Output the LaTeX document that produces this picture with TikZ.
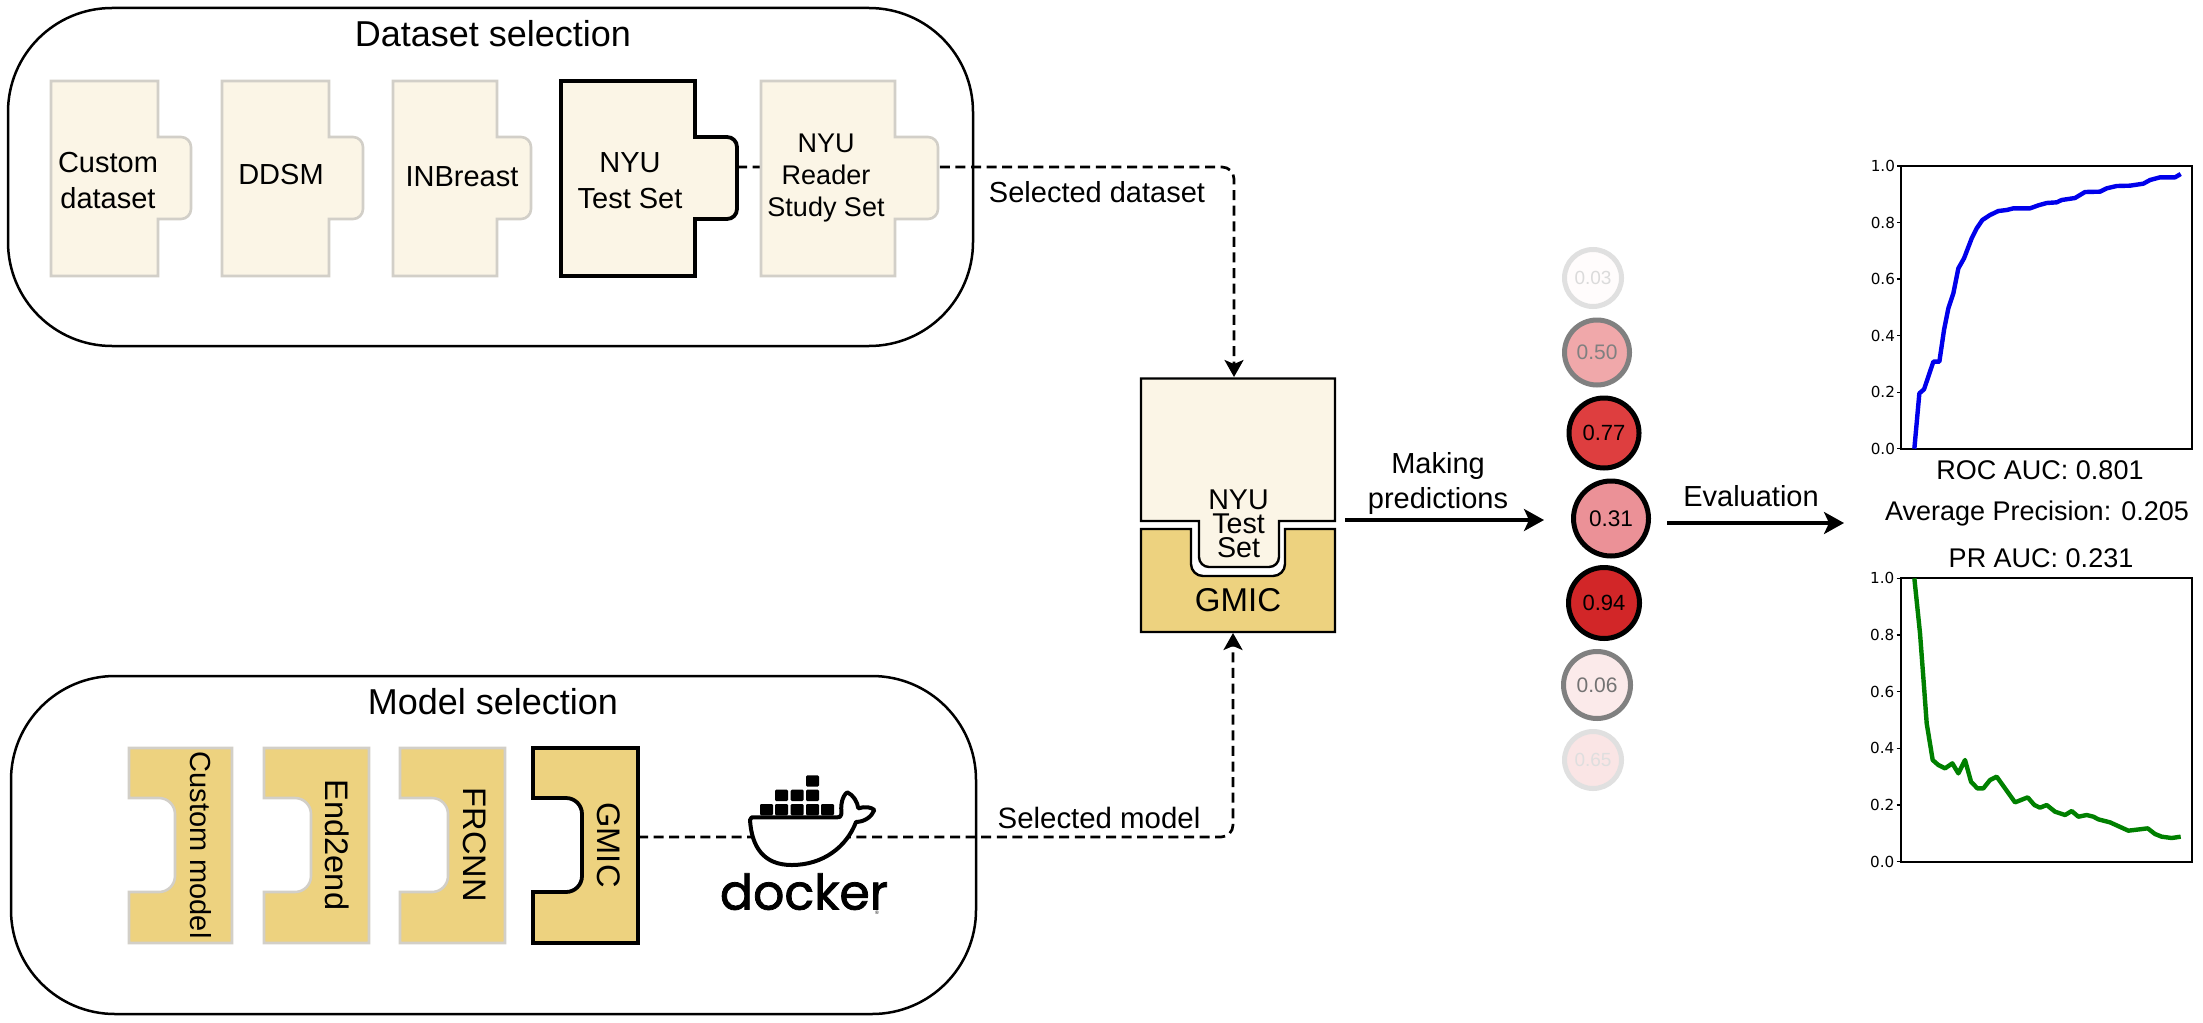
\documentclass[tikz,border=0pt]{standalone}
\usepackage{fontspec}
\setmainfont{Liberation Sans}
\newfontfamily\tickfont{DejaVu Sans}
\newfontfamily\dockerfont[RawFeature={embolden=1.6}]{Poppins}
\usetikzlibrary{arrows.meta}
\definecolor{cream}{HTML}{FBF5E6}
\definecolor{gold}{HTML}{EDD27F}
\definecolor{softedge}{HTML}{D2CFC8}
\tikzset{
  container/.style={draw=black,line width=1.25pt,fill=white,rounded corners=52pt},
  softpiece/.style={line width=1.3pt,draw=softedge},
  hardpiece/.style={line width=1.9pt,draw=black},
  txt/.style={inner sep=0pt,font=\fontsize{14.5}{18}\selectfont,align=center},
  bigtxt/.style={txt,font=\fontsize{18}{20}\selectfont},
  sidetxt/.style={txt,rotate=-90,font=\fontsize{16.3}{18}\selectfont},
  dashconn/.style={line width=1.35pt,dash pattern=on 5pt off 2.8pt,rounded corners=6pt,-{Stealth[length=8.5pt,width=9.5pt,inset=2pt]}},
  flow/.style={line width=1.65pt,-{Stealth[length=10pt,width=11pt,inset=2.5pt]}},
  score/.style={circle,inner sep=0pt,line width=2.5pt},
  tick/.style={line width=.6pt},
  ticktxt/.style={inner sep=0pt,anchor=east,font=\tickfont\fontsize{7.6}{8}\selectfont},
  plotframe/.style={line width=1.1pt,draw=black},
  curve/.style={line width=2.2pt,line join=round}
}
\newcommand{\dsPiece}[4]{% x1,x2,x3,style
  \path[fill=cream,#4] (#1,81) -- (#2,81) -- (#2,137) [rounded corners=5pt] -- (#3,137) -- (#3,219) [sharp corners] -- (#2,219) -- (#2,276) -- (#1,276) -- cycle;}
\newcommand{\mdPiece}[4]{% x1,x2,x3,style
  \path[fill=gold,#4] (#1,748) -- (#2,748) -- (#2,943) -- (#1,943) -- (#1,892) [rounded corners=8pt] -- (#3,892) -- (#3,798) [sharp corners] -- (#1,798) -- cycle;}
\newcommand{\yticks}[3]{% frame left, y of 0, y of 1
  \foreach \v/\t in {0/0.0,1/0.2,2/0.4,3/0.6,4/0.8,5/1.0}{
    \pgfmathsetmacro{\yy}{#2+(#3-#2)*\v/5}
    \draw[tick] (#1-4,\yy) -- (#1,\yy);
    \node[ticktxt] (tick#2x\v) at (#1-6,\yy) {\t};
  }}
\begin{document}
\begin{tikzpicture}[x=0.5pt,y=-0.5pt]
\useasboundingbox (0,0) rectangle (2203,1022);
\fill[white] (0,0) rectangle (2203,1022);

% containers
\path[container] (8,8) rectangle (973,346);
\path[container] (11,676) rectangle (976,1014);
\node[bigtxt] (dstitle) at (493,34) {Dataset selection};
\node[bigtxt] (mdtitle) at (493,702) {Model selection};

% anchors of connectors
\coordinate (nyutab) at (737,167);
\coordinate (blocktop) at (1234,377);
\coordinate (gmicedge) at (638,837);
\coordinate (blockbottom) at (1233,633);

% connectors under the pieces
\draw[dashconn] (nyutab) -| (blocktop);
\draw[dashconn] (gmicedge) -| (blockbottom);

% dataset pieces
\dsPiece{51}{158}{191}{softpiece}
\dsPiece{222}{329}{363}{softpiece}
\dsPiece{393}{497}{531}{softpiece}
\dsPiece{561}{695}{737}{hardpiece}
\dsPiece{761}{895}{938}{softpiece}
\node[txt] (t1) at (108,181) {Custom\\dataset};
\node[txt] (t2) at (281,175) {DDSM};
\node[txt] (t3) at (462,177) {INBreast};
\node[txt] (t4) at (630,181) {NYU\\Test Set};
\node[txt,font=\fontsize{13.5}{16.2}\selectfont] (t5) at (826,178) {NYU\\Reader\\Study Set};

% model pieces
\mdPiece{129}{232}{175}{softpiece}
\mdPiece{264}{369}{311}{softpiece}
\mdPiece{400}{505}{448}{softpiece}
\mdPiece{533}{638}{582}{hardpiece}
\node[sidetxt,font=\fontsize{14.5}{16}\selectfont] (m1) at (201,845) {Custom model};
\node[sidetxt] (m2) at (337,845) {End2end};
\node[sidetxt] (m3) at (475,845) {FRCNN};
\node[sidetxt] (m4) at (609,845) {GMIC};

% docker logo
\begin{scope}[shift={(680,730)},x=0.16667pt,y=-0.16667pt]
  \path[fill=white,draw=black,line width=2pt,line join=round]
    (215,262) -- (470,262) .. controls (490,262) and (482,250) .. (484,225)
    .. controls (486,205) and (495,190) .. (502,187)
    .. controls (520,195) and (532,215) .. (535,235)
    .. controls (555,228) and (575,232) .. (583,240)
    .. controls (575,260) and (555,275) .. (528,276)
    .. controls (500,350) and (430,405) .. (335,405)
    .. controls (250,405) and (215,350) .. (210,270) -- cycle;
  \foreach \bx/\by in {240/222,285/222,332/222,378/222,423/222,285/179,332/179,378/179,378/136}
    \fill[black,rounded corners=.6pt] (\bx,\by) rectangle ++(39,34);
  \node[inner sep=0pt,font=\dockerfont\fontsize{24.5}{26}\selectfont] (dockertxt) at (372,485) {docker};
  \node[inner sep=0pt,font=\fontsize{2.5}{3}\selectfont] (dockerreg) at (591,549) {®};
\end{scope}

\node[txt] (seld) at (1097,192) {Selected dataset};
\node[txt,font=\fontsize{14.7}{16}\selectfont] (selm) at (1099,818) {Selected model};

% central block
\path[fill=cream,draw=black,line width=1.2pt] (1141,378.5) -- (1335,378.5) -- (1335,521) -- (1279,521)
  [rounded corners=5pt] -- (1279,567) -- (1199,567) [sharp corners] -- (1199,521) -- (1141,521) -- cycle;
\path[fill=gold,draw=black,line width=1.2pt] (1141,529) -- (1191,529)
  [rounded corners=6pt] -- (1191,576) -- (1285,576) [sharp corners] -- (1285,529) -- (1335,529) -- (1335,632) -- (1141,632) -- cycle;
\node[txt,font=\fontsize{14.3}{12}\selectfont] (blocktxt) at (1238.5,524) {NYU\\Test\\Set};
\node[txt,font=\fontsize{16.5}{18}\selectfont] (blockgmic) at (1238,600) {GMIC};

% score circles
\node[score,minimum size=28.5pt,draw=black!12,fill=red!1,text=black!14,font=\fontsize{9.5}{10}\selectfont] (c1) at (1593,278) {0.03};
\node[score,minimum size=32.5pt,draw=black!50,fill={rgb,255:red,240;green,168;blue,170},text=black!50,font=\fontsize{10.5}{11}\selectfont] (c2) at (1597,352.5) {0.50};
\node[score,minimum size=35pt,draw=black,fill={rgb,255:red,222;green,62;blue,63},font=\fontsize{11}{12}\selectfont] (c3) at (1604,433) {0.77};
\node[score,minimum size=37.5pt,draw=black,fill={rgb,255:red,235;green,145;blue,151},font=\fontsize{11.3}{12}\selectfont] (c4) at (1611,518.5) {0.31};
\node[score,minimum size=35.5pt,draw=black,fill={rgb,255:red,210;green,38;blue,40},font=\fontsize{11}{12}\selectfont] (c5) at (1604,603) {0.94};
\node[score,minimum size=33.5pt,draw=black!50,fill={rgb,255:red,251;green,234;blue,234},text=black!55,font=\fontsize{10.5}{11}\selectfont] (c6) at (1597,685) {0.06};
\node[score,minimum size=28.5pt,draw=black!12,fill={rgb,255:red,250;green,229;blue,229},text=black!13,font=\fontsize{9.5}{10}\selectfont] (c7) at (1593,760) {0.65};

% flow arrows
\coordinate (predstart) at (1345,520);
\coordinate (predend) at (1544,520);
\coordinate (evalstart) at (1667,523);
\coordinate (evalend) at (1844,523);
\draw[flow] (predstart) -- (predend);
\draw[flow] (evalstart) -- (evalend);
\node[txt,font=\fontsize{14.5}{17.5}\selectfont] (predlabel) at (1438,483) {Making\\predictions};
\node[txt] (evallabel) at (1751,496) {Evaluation};

% ROC plot
\draw[plotframe] (1901.3,166) rectangle (2192,448.7);
\yticks{1901.3}{448.7}{166}
\begin{scope}[shift={(1800,130)},x=0.16667pt,y=-0.16667pt]
\draw[curve,color={rgb,255:red,0;green,0;blue,235}] (343,956) -- (358,790) -- (372,778) -- (400,695) -- (418,695) -- (432,600) -- (445,535) -- (460,490) -- (475,415) -- (492,385) -- (515,325) -- (530,295) -- (547,270) -- (570,255) -- (595,243) -- (620,240) -- (640,235) -- (690,235) -- (715,226) -- (740,219) -- (770,217) -- (785,210) -- (825,204) -- (855,186) -- (900,185) -- (920,175) -- (950,168) -- (990,167) -- (1030,161) -- (1050,150) -- (1080,142) -- (1125,142) -- (1142,132);
\end{scope}
\node[txt,font=\fontsize{13.5}{14}\selectfont] (roc) at (2040,470) {ROC AUC: 0.801};
\node[txt,font=\fontsize{13.5}{14}\selectfont] (ap) at (2037,514) {Average Precision: 0.205};
\node[txt,font=\fontsize{13.5}{14}\selectfont] (pr) at (2041,558) {PR AUC: 0.231};

% PR plot
\draw[plotframe] (1900.7,578.3) rectangle (2192,861.7);
\yticks{1900.7}{861.7}{578.3}
\begin{scope}[shift={(1800,480)},x=0.16667pt,y=-0.16667pt]
\draw[curve,color={rgb,255:red,0;green,128;blue,0}] (343,295) -- (360,460) -- (372,620) -- (380,730) -- (398,840) -- (415,855) -- (435,865) -- (457,850) -- (475,880) -- (495,840) -- (513,905) -- (532,925) -- (550,925) -- (570,900) -- (590,890) -- (615,925) -- (645,967) -- (683,952) -- (703,975) -- (720,983) -- (740,975) -- (765,995) -- (795,1005) -- (815,993) -- (835,1010) -- (860,1005) -- (880,1010) -- (895,1018) -- (930,1027) -- (985,1052) -- (1043,1045) -- (1065,1062) -- (1085,1070) -- (1115,1074) -- (1142,1070);
\end{scope}
\end{tikzpicture}
\end{document}
